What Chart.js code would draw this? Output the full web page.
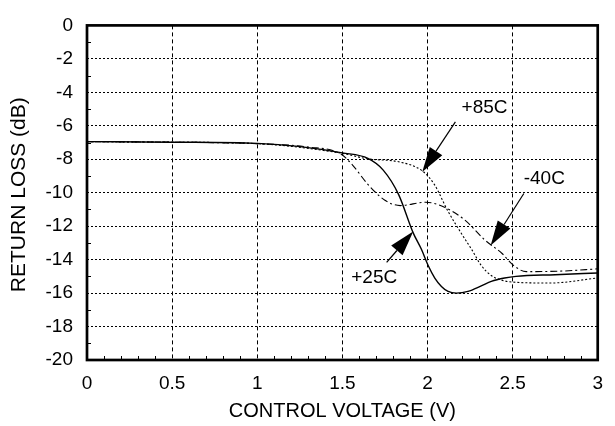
<!DOCTYPE html>
<html>
<head>
<meta charset="utf-8">
<script src="https://cdn.jsdelivr.net/npm/chart.js@4.4.1/dist/chart.umd.min.js"></script>
<style>
    html, body { margin: 0; padding: 0; background: #fff; }
    #wrap { width: 615px; height: 426px; position: relative; }
</style>
</head>
<body>
<div id="wrap"><canvas id="rlChart"></canvas></div>
<script>
// return loss vs control voltage, three temperatures
const voltage25 = [0, 0.5, 1.0, 1.24, 1.5, 1.65, 1.74, 1.83, 1.916, 1.965, 2.004, 2.043, 2.082, 2.121, 2.17, 2.238, 2.316, 2.375, 2.453, 2.52, 2.75, 3.0];
const loss25 = [-6.95, -6.98, -7.05, -7.23, -7.62, -7.95, -8.65, -10.1, -12.4, -13.4, -14.35, -15.1, -15.6, -15.9, -16.0, -15.9, -15.57, -15.3, -15.1, -15.0, -14.9, -14.8];

const voltage85 = [0, 0.5, 1.0, 1.5, 1.65, 1.83, 1.97, 2.04, 2.12, 2.2, 2.26, 2.316, 2.375, 2.433, 2.5, 2.72, 3.0];
const loss85 = [-6.95, -6.98, -7.07, -7.65, -7.98, -8.15, -8.7, -9.5, -11.1, -12.45, -13.4, -14.35, -14.95, -15.22, -15.34, -15.4, -15.1];

const voltageM40 = [0, 0.5, 1.0, 1.3, 1.49, 1.56, 1.65, 1.75, 1.84, 1.99, 2.1, 2.22, 2.335, 2.44, 2.5, 2.58, 2.8, 3.0];
const lossM40 = [-6.95, -6.98, -7.07, -7.27, -7.68, -8.35, -9.5, -10.45, -10.77, -10.57, -10.87, -11.64, -12.81, -13.65, -14.3, -14.72, -14.68, -14.55];

const seriesNames = ['+25C', '+85C', '-40C'];
const xTitle = 'CONTROL VOLTAGE (V)';
const yTitle = 'RETURN LOSS (dB)';

const FONT = '"Liberation Sans", Arial, sans-serif';

function zip(xs, ys) {
    return xs.map((x, i) => ({ x: x, y: ys[i] }));
}

// callouts in data units: label centre, arrow tail, arrow tip
const callouts = [
    { text: seriesNames[1], at: [2.335, -4.93], from: [2.164, -5.77], to: [1.969, -8.76] },
    { text: seriesNames[2], at: [2.686, -9.18], from: [2.566, -10.05], to: [2.371, -13.16] },
    { text: seriesNames[0], at: [1.687, -15.1], from: [1.76, -14.17], to: [1.916, -12.32] }
];

const framePlugin = {
    id: 'frame',
    afterDraw(chart) {
        const ctx = chart.ctx;
        const a = chart.chartArea;
        const xs = chart.scales.x, ys = chart.scales.y;
        ctx.save();
        ctx.strokeStyle = '#000';

        // minor ticks, inside
        ctx.lineWidth = 1;
        for (let v = -19; v < 0; v += 2) {
            const py = Math.round(ys.getPixelForValue(v)) + 0.5;
            ctx.beginPath();
            ctx.moveTo(a.left, py);
            ctx.lineTo(a.left + 4, py);
            ctx.stroke();
        }
        for (let i = 1; i < 30; i++) {
            if (i % 5 === 0) continue;
            const px = Math.round(xs.getPixelForValue(i / 10)) + 0.5;
            ctx.beginPath();
            ctx.moveTo(px, a.bottom);
            ctx.lineTo(px, a.bottom - 4);
            ctx.stroke();
        }

        // heavy box
        ctx.lineWidth = 2.7;
        ctx.strokeRect(a.left, a.top, a.right - a.left, a.bottom - a.top);

        // callouts
        ctx.font = '19px ' + FONT;
        ctx.fillStyle = '#000';
        ctx.textAlign = 'center';
        ctx.textBaseline = 'middle';
        callouts.forEach(c => {
            ctx.fillText(c.text, xs.getPixelForValue(c.at[0]), ys.getPixelForValue(c.at[1]));
            const x1 = xs.getPixelForValue(c.from[0]), y1 = ys.getPixelForValue(c.from[1]);
            const x2 = xs.getPixelForValue(c.to[0]), y2 = ys.getPixelForValue(c.to[1]);
            const ang = Math.atan2(y2 - y1, x2 - x1);
            const headLen = 25, headW = 7.5;
            const bx = x2 - headLen * Math.cos(ang), by = y2 - headLen * Math.sin(ang);
            ctx.lineWidth = 1.2;
            ctx.beginPath();
            ctx.moveTo(x1, y1);
            ctx.lineTo(bx, by);
            ctx.stroke();
            ctx.beginPath();
            ctx.moveTo(x2, y2);
            ctx.lineTo(bx + headW * Math.sin(ang), by - headW * Math.cos(ang));
            ctx.lineTo(bx - headW * Math.sin(ang), by + headW * Math.cos(ang));
            ctx.closePath();
            ctx.fill();
        });

        // axis titles
        ctx.font = '20px ' + FONT;
        ctx.fillText(xTitle, (a.left + a.right) / 2, 411);
        ctx.font = '21px ' + FONT;
        ctx.translate(19, (a.top + a.bottom) / 2 + 2);
        ctx.rotate(-Math.PI / 2);
        ctx.fillText(yTitle, 0, 0);
        ctx.restore();
    }
};

const lineBase = {
    borderColor: '#000',
    backgroundColor: '#000',
    fill: false,
    pointRadius: 0,
    cubicInterpolationMode: 'monotone'
};

new Chart(document.getElementById('rlChart').getContext('2d'), {
    type: 'line',
    data: {
        datasets: [
            Object.assign({ label: seriesNames[0], data: zip(voltage25, loss25), borderWidth: 1.4 }, lineBase),
            Object.assign({ label: seriesNames[1], data: zip(voltage85, loss85), borderWidth: 1.1, borderDash: [2, 2] }, lineBase),
            Object.assign({ label: seriesNames[2], data: zip(voltageM40, lossM40), borderWidth: 1.1, borderDash: [7, 3, 2, 3] }, lineBase)
        ]
    },
    options: {
        responsive: true,
        maintainAspectRatio: false,
        animation: false,
        devicePixelRatio: 1,
        layout: { padding: { top: 17, right: 16, left: 0, bottom: 0 } },
        plugins: { legend: { display: false }, tooltip: { enabled: false } },
        scales: {
            x: {
                type: 'linear',
                min: 0,
                max: 3,
                afterFit: s => { s.height = 66; },
                afterBuildTicks: s => { s.ticks = [0, 0.5, 1, 1.5, 2, 2.5, 3].map(v => ({ value: v })); },
                ticks: {
                    color: '#000',
                    font: { family: FONT, size: 19 },
                    padding: 12,
                    maxRotation: 0,
                    autoSkip: false,
                    callback: v => String(v)
                },
                grid: { color: '#000', lineWidth: 1, drawTicks: false },
                border: { display: false, dash: [4, 3] }
            },
            y: {
                min: -20,
                max: 0,
                afterFit: s => { s.width = 87; },
                ticks: {
                    stepSize: 2,
                    color: '#000',
                    font: { family: FONT, size: 19 },
                    padding: 14
                },
                grid: { color: '#000', lineWidth: 1, drawTicks: false },
                border: { display: false, dash: [2, 2] }
            }
        }
    },
    plugins: [framePlugin]
});
</script>
</body>
</html>
